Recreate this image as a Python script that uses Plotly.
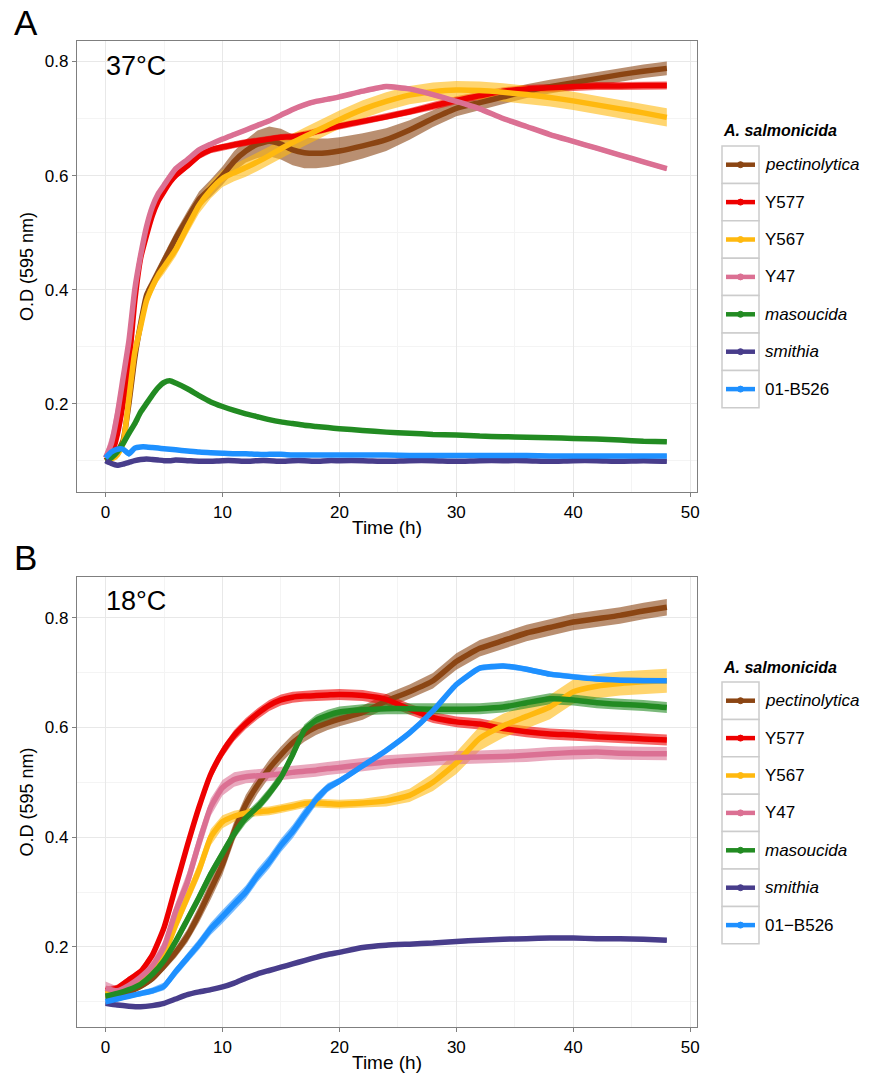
import plotly.graph_objects as go
import numpy as np

W, H = 874, 1076
FONT = "Liberation Sans, Arial, sans-serif"

series_names_A = ["pectinolytica", "Y577", "Y567", "Y47", "masoucida", "smithia", "01-B526"]
series_names_B = ["pectinolytica", "Y577", "Y567", "Y47", "masoucida", "smithia", "01\u2212B526"]
italic_names = ["pectinolytica", "masoucida", "smithia"]
colors = ["#8B4513", "#EE0000", "#FFB90F", "#DB7093", "#228B22", "#483D8B", "#1E90FF"]

# ---------------- Panel A : 37 C ----------------
tA = [0, 0.5, 1, 1.5, 2, 2.5, 3, 3.5, 4, 4.5, 5, 5.5, 6, 7, 8, 9, 10, 11, 12, 13, 14, 15, 16, 17, 18, 19, 20,
      22, 24, 26, 28, 30, 32, 34, 36, 38, 40, 42, 44, 46, 48]

pectA = [0.100, 0.105, 0.115, 0.135, 0.200, 0.280, 0.340, 0.390, 0.410, 0.430, 0.450, 0.470, 0.490,
         0.525, 0.558, 0.578, 0.600, 0.625, 0.643, 0.655, 0.660, 0.655, 0.645, 0.640, 0.639, 0.640, 0.643,
         0.652, 0.663, 0.680, 0.700, 0.718, 0.728, 0.738, 0.748, 0.756, 0.763, 0.770, 0.777, 0.783, 0.788]
y577A = [0.100, 0.110, 0.145, 0.200, 0.270, 0.380, 0.455, 0.495, 0.530, 0.555, 0.572, 0.588, 0.600,
         0.617, 0.635, 0.645, 0.650, 0.654, 0.658, 0.661, 0.664, 0.667, 0.668, 0.672, 0.677, 0.682, 0.687,
         0.695, 0.703, 0.712, 0.722, 0.732, 0.740, 0.748, 0.752, 0.754, 0.756, 0.757, 0.757, 0.758, 0.758]
y567A = [0.100, 0.103, 0.110, 0.130, 0.210, 0.290, 0.335, 0.380, 0.405, 0.425, 0.440, 0.455, 0.470,
         0.510, 0.548, 0.575, 0.595, 0.605, 0.614, 0.624, 0.635, 0.647, 0.658, 0.668, 0.678, 0.688, 0.698,
         0.716, 0.730, 0.741, 0.747, 0.750, 0.749, 0.746, 0.742, 0.737, 0.731, 0.724, 0.717, 0.710, 0.702]
y47A = [0.105, 0.130, 0.180, 0.245, 0.310, 0.400, 0.460, 0.510, 0.545, 0.568, 0.583, 0.598, 0.612,
        0.628, 0.645, 0.655, 0.664, 0.672, 0.680, 0.688, 0.696, 0.706, 0.716, 0.724, 0.730, 0.734, 0.738,
        0.748, 0.756, 0.752, 0.742, 0.730, 0.717, 0.700, 0.686, 0.672, 0.660, 0.648, 0.636, 0.624, 0.612]
masoA = [0.100, 0.105, 0.115, 0.130, 0.148, 0.165, 0.185, 0.200, 0.215, 0.228, 0.237, 0.240, 0.236,
         0.226, 0.214, 0.203, 0.195, 0.188, 0.182, 0.177, 0.172, 0.168, 0.165, 0.162, 0.160, 0.158, 0.156,
         0.153, 0.150, 0.148, 0.146, 0.145, 0.143, 0.142, 0.141, 0.140, 0.139, 0.138, 0.136, 0.134, 0.133]
smitA = [0.100, 0.095, 0.092, 0.094, 0.097, 0.100, 0.102, 0.103, 0.102, 0.101, 0.100, 0.100, 0.101,
         0.100, 0.099, 0.099, 0.100, 0.100, 0.099, 0.100, 0.100, 0.099, 0.100, 0.100, 0.099, 0.100, 0.100,
         0.100, 0.099, 0.100, 0.100, 0.099, 0.100, 0.100, 0.100, 0.099, 0.100, 0.100, 0.099, 0.100, 0.099]
b526A = [0.105, 0.115, 0.120, 0.120, 0.112, 0.122, 0.124, 0.124, 0.123, 0.122, 0.121, 0.120, 0.119,
         0.117, 0.115, 0.114, 0.113, 0.112, 0.112, 0.111, 0.111, 0.111, 0.110, 0.110, 0.110, 0.110, 0.110,
         0.110, 0.110, 0.109, 0.109, 0.109, 0.109, 0.109, 0.109, 0.108, 0.108, 0.108, 0.108, 0.108, 0.108]

errPectA = [0.004, 0.004, 0.005, 0.008, 0.012, 0.012, 0.012, 0.012, 0.012, 0.012, 0.012, 0.012, 0.012,
            0.013, 0.014, 0.015, 0.016, 0.018, 0.020, 0.024, 0.026, 0.027, 0.027, 0.027, 0.026, 0.025, 0.024,
            0.022, 0.020, 0.017, 0.015, 0.014, 0.013, 0.013, 0.012, 0.012, 0.012, 0.012, 0.012, 0.012, 0.012]
errY577A = [0.004, 0.006, 0.010, 0.012, 0.012, 0.010, 0.008, 0.007, 0.006, 0.006, 0.006, 0.006, 0.006,
            0.006, 0.006, 0.006, 0.006, 0.006, 0.006, 0.006, 0.006, 0.006, 0.006, 0.006, 0.006, 0.006, 0.006,
            0.006, 0.006, 0.006, 0.007, 0.007, 0.007, 0.007, 0.007, 0.007, 0.007, 0.007, 0.007, 0.007, 0.007]
errY567A = [0.004, 0.005, 0.008, 0.012, 0.015, 0.012, 0.010, 0.010, 0.010, 0.011, 0.012, 0.012, 0.012,
            0.013, 0.014, 0.015, 0.015, 0.015, 0.016, 0.016, 0.016, 0.016, 0.016, 0.016, 0.016, 0.016, 0.016,
            0.016, 0.016, 0.016, 0.016, 0.016, 0.016, 0.016, 0.016, 0.016, 0.016, 0.016, 0.016, 0.016, 0.016]
errY47A = [0.010, 0.020, 0.025, 0.020, 0.012, 0.008, 0.006, 0.005, 0.005, 0.005, 0.004, 0.004, 0.004,
           0.004, 0.004, 0.004, 0.004, 0.004, 0.004, 0.004, 0.004, 0.004, 0.004, 0.004, 0.004, 0.004, 0.004,
           0.004, 0.004, 0.004, 0.004, 0.004, 0.004, 0.004, 0.004, 0.004, 0.004, 0.004, 0.004, 0.004, 0.004]
errMasoA = [0.004, 0.004, 0.004, 0.004, 0.003, 0.003, 0.003, 0.003, 0.003, 0.003, 0.003, 0.003, 0.003,
            0.003, 0.003, 0.003, 0.003, 0.003, 0.003, 0.003, 0.003, 0.003, 0.003, 0.003, 0.003, 0.003, 0.003,
            0.003, 0.003, 0.003, 0.003, 0.003, 0.003, 0.003, 0.003, 0.003, 0.003, 0.003, 0.003, 0.003, 0.003]
errSmitA = [0.006, 0.004, 0.003, 0.003, 0.003, 0.003, 0.003, 0.003, 0.003, 0.003, 0.003, 0.003, 0.003,
            0.003, 0.003, 0.003, 0.003, 0.003, 0.004, 0.004, 0.003, 0.003, 0.003, 0.003, 0.003, 0.003, 0.004,
            0.003, 0.003, 0.004, 0.003, 0.004, 0.003, 0.003, 0.003, 0.003, 0.003, 0.004, 0.003, 0.004, 0.003]
errB526A = [0.004, 0.004, 0.004, 0.004, 0.006, 0.004, 0.003, 0.003, 0.003, 0.003, 0.003, 0.003, 0.003,
            0.003, 0.003, 0.003, 0.003, 0.003, 0.003, 0.003, 0.003, 0.003, 0.003, 0.003, 0.003, 0.003, 0.003,
            0.003, 0.003, 0.003, 0.003, 0.003, 0.003, 0.003, 0.003, 0.003, 0.003, 0.003, 0.003, 0.003, 0.003]

# ---------------- Panel B : 18 C ----------------
tB = [0, 1, 2, 3, 4, 5, 6, 7, 8, 9, 10, 11, 12, 13, 14, 15, 16, 17, 18, 19, 20,
      22, 24, 26, 28, 30, 32, 34, 36, 38, 40, 42, 44, 46, 48]

pectB = [0.110, 0.112, 0.118, 0.128, 0.142, 0.165, 0.190, 0.220, 0.260, 0.305, 0.350, 0.410, 0.460, 0.495,
         0.525, 0.550, 0.572, 0.588, 0.600, 0.608, 0.615,
         0.627, 0.648, 0.665, 0.685, 0.720, 0.744, 0.758, 0.772, 0.782, 0.792, 0.798, 0.804, 0.812, 0.819]
y577B = [0.120, 0.125, 0.140, 0.155, 0.185, 0.235, 0.310, 0.385, 0.455, 0.515, 0.555, 0.585, 0.607, 0.625,
         0.640, 0.650, 0.655, 0.657, 0.658, 0.659, 0.660,
         0.658, 0.651, 0.633, 0.618, 0.610, 0.606, 0.598, 0.592, 0.588, 0.586, 0.583, 0.581, 0.579, 0.577]
y567B = [0.115, 0.118, 0.125, 0.137, 0.155, 0.185, 0.240, 0.290, 0.340, 0.400, 0.428, 0.438, 0.444, 0.446,
         0.448, 0.452, 0.456, 0.461, 0.462, 0.461, 0.460,
         0.462, 0.466, 0.476, 0.500, 0.535, 0.580, 0.603, 0.620, 0.637, 0.665, 0.675, 0.680, 0.683, 0.685]
y47B = [0.125, 0.120, 0.130, 0.145, 0.165, 0.200, 0.265, 0.318, 0.390, 0.455, 0.490, 0.505, 0.510, 0.512,
        0.513, 0.515, 0.518, 0.520, 0.522, 0.525, 0.527,
        0.532, 0.537, 0.540, 0.543, 0.545, 0.546, 0.547, 0.549, 0.552, 0.554, 0.555, 0.553, 0.552, 0.552]
masoB = [0.110, 0.115, 0.122, 0.132, 0.150, 0.175, 0.210, 0.250, 0.290, 0.333, 0.370, 0.406, 0.435, 0.455,
         0.480, 0.509, 0.550, 0.595, 0.613, 0.622, 0.628,
         0.632, 0.634, 0.634, 0.633, 0.633, 0.634, 0.637, 0.645, 0.652, 0.650, 0.645, 0.642, 0.640, 0.636]
smitB = [0.097, 0.094, 0.092, 0.091, 0.093, 0.097, 0.105, 0.113, 0.118, 0.122, 0.127, 0.134, 0.143, 0.151,
         0.157, 0.163, 0.169, 0.175, 0.181, 0.186, 0.190,
         0.199, 0.203, 0.205, 0.207, 0.210, 0.212, 0.214, 0.215, 0.216, 0.216, 0.215, 0.215, 0.214, 0.212]
b526B = [0.100, 0.105, 0.110, 0.115, 0.120, 0.128, 0.155, 0.180, 0.205, 0.233, 0.255, 0.278, 0.300, 0.330,
         0.355, 0.385, 0.410, 0.440, 0.468, 0.490, 0.502,
         0.530, 0.558, 0.590, 0.630, 0.678, 0.708, 0.712, 0.706, 0.697, 0.692, 0.688, 0.686, 0.685, 0.685]

errPectB = [0.004, 0.004, 0.004, 0.005, 0.006, 0.008, 0.010, 0.012, 0.015, 0.018, 0.018, 0.018, 0.017, 0.016,
            0.016, 0.015, 0.015, 0.014, 0.014, 0.013, 0.013,
            0.013, 0.013, 0.013, 0.014, 0.015, 0.015, 0.015, 0.015, 0.015, 0.015, 0.015, 0.015, 0.015, 0.015]
errY577B = [0.008, 0.006, 0.006, 0.006, 0.007, 0.008, 0.009, 0.010, 0.010, 0.010, 0.010, 0.010, 0.010, 0.010,
            0.010, 0.010, 0.010, 0.010, 0.010, 0.010, 0.010,
            0.010, 0.010, 0.010, 0.010, 0.010, 0.010, 0.010, 0.010, 0.010, 0.010, 0.010, 0.010, 0.010, 0.010]
errY567B = [0.006, 0.006, 0.006, 0.007, 0.008, 0.010, 0.012, 0.015, 0.015, 0.015, 0.012, 0.010, 0.008, 0.008,
            0.008, 0.008, 0.008, 0.008, 0.008, 0.008, 0.008,
            0.008, 0.010, 0.012, 0.016, 0.020, 0.022, 0.022, 0.022, 0.022, 0.022, 0.022, 0.022, 0.022, 0.022]
errY47B = [0.012, 0.008, 0.008, 0.008, 0.010, 0.012, 0.015, 0.018, 0.018, 0.016, 0.014, 0.013, 0.012, 0.012,
           0.012, 0.012, 0.012, 0.012, 0.012, 0.012, 0.012,
           0.012, 0.012, 0.012, 0.012, 0.012, 0.012, 0.012, 0.012, 0.012, 0.012, 0.012, 0.012, 0.012, 0.012]
errMasoB = [0.006, 0.005, 0.005, 0.006, 0.007, 0.008, 0.009, 0.010, 0.010, 0.010, 0.010, 0.010, 0.010, 0.010,
            0.010, 0.010, 0.010, 0.010, 0.010, 0.010, 0.010,
            0.010, 0.010, 0.010, 0.010, 0.010, 0.010, 0.010, 0.010, 0.010, 0.010, 0.010, 0.010, 0.010, 0.010]
errSmitB = [0.003, 0.003, 0.003, 0.003, 0.003, 0.003, 0.003, 0.003, 0.003, 0.003, 0.003, 0.003, 0.003, 0.003,
            0.003, 0.003, 0.003, 0.003, 0.003, 0.003, 0.003,
            0.003, 0.003, 0.003, 0.003, 0.003, 0.003, 0.003, 0.003, 0.003, 0.003, 0.003, 0.003, 0.003, 0.003]
errB526B = [0.005, 0.004, 0.004, 0.005, 0.006, 0.007, 0.008, 0.009, 0.010, 0.011, 0.012, 0.012, 0.012, 0.012,
            0.012, 0.012, 0.012, 0.012, 0.010, 0.008, 0.006,
            0.005, 0.005, 0.005, 0.005, 0.005, 0.005, 0.005, 0.005, 0.005, 0.005, 0.005, 0.005, 0.005, 0.005]

x_ticks = [0, 10, 20, 30, 40, 50]
y_ticks = [0.2, 0.4, 0.6, 0.8]
y_ticktext = ["0.2", "0.4", "0.6", "0.8"]

panels = [
    dict(t=tA, vals=[pectA, y577A, y567A, y47A, masoA, smitA, b526A],
         errs=[errPectA, errY577A, errY567A, errY47A, errMasoA, errSmitA, errB526A],
         xa="x", ya="y", names=series_names_A),
    dict(t=tB, vals=[pectB, y577B, y567B, y47B, masoB, smitB, b526B],
         errs=[errPectB, errY577B, errY567B, errY47B, errMasoB, errSmitB, errB526B],
         xa="x2", ya="y2", names=series_names_B),
]


def rgba(hexc, a):
    h = hexc.lstrip("#")
    return "rgba(%d,%d,%d,%.2f)" % (int(h[0:2], 16), int(h[2:4], 16), int(h[4:6], 16), a)


fig = go.Figure()
for p in panels:
    t = np.array(p["t"], dtype=float)
    # error bands first
    for v, e, c in zip(p["vals"], p["errs"], colors):
        v = np.array(v); e = np.array(e)
        fig.add_trace(go.Scatter(x=t, y=v + e, mode="lines", line=dict(width=0, color=c),
                                 xaxis=p["xa"], yaxis=p["ya"], showlegend=False, hoverinfo="skip"))
        fig.add_trace(go.Scatter(x=t, y=v - e, mode="lines", line=dict(width=0, color=c),
                                 fill="tonexty", fillcolor=rgba(c, 0.6),
                                 xaxis=p["xa"], yaxis=p["ya"], showlegend=False, hoverinfo="skip"))
    # mean curves
    for v, c, n in zip(p["vals"], colors, p["names"]):
        sizes = [0] * (len(v) - 1) + [8]
        fig.add_trace(go.Scatter(x=t, y=v, mode="lines+markers", name=n,
                                 line=dict(width=5.5, color=c, shape="spline", smoothing=0.5),
                                 marker=dict(size=sizes, color="rgba(0,0,0,0)", symbol="circle-open",
                                             line=dict(color=c, width=1.5)),
                                 xaxis=p["xa"], yaxis=p["ya"], showlegend=False))

# axes geometry (pixels, reference coordinates)
xl, xr = 77, 697
A_top, A_bot = 41, 492
B_top, B_bot = 577, 1027


def P(x, y):
    return x / W, 1 - y / H


def pdom(top, bot):
    return [P(0, bot)[1], P(0, top)[1]]


xdom = [P(xl, 0)[0], P(xr, 0)[0]]

axis_common = dict(showline=True, mirror=True, linecolor="#7F7F7F", linewidth=1.3,
                   ticks="outside", ticklen=4, tickcolor="#7F7F7F", tickwidth=1.2,
                   showgrid=True, gridcolor="#E8E8E8", gridwidth=1.2, zeroline=False,
                   automargin=False,
                   tickfont=dict(family=FONT, size=17, color="#000000"))

xcommon = dict(axis_common, range=[-2.44, 50.58], tickvals=x_ticks,
               minor=dict(tickvals=[5, 15, 25, 35, 45], showgrid=True, gridcolor="#F4F4F4", gridwidth=1, ticks=""),
               title=dict(text="Time (h)", font=dict(family=FONT, size=19, color="#000"), standoff=0))
ycommon = dict(axis_common, tickvals=y_ticks, ticktext=y_ticktext,
               minor=dict(tickvals=[0.1, 0.3, 0.5, 0.7], showgrid=True, gridcolor="#F4F4F4", gridwidth=1, ticks=""),
               title=dict(text="O.D (595 nm)", font=dict(family=FONT, size=18, color="#000"), standoff=6))

fig.update_layout(
    width=W, height=H, autosize=False,
    margin=dict(l=0, r=0, t=0, b=0),
    paper_bgcolor="white", plot_bgcolor="white",
    showlegend=False,
    xaxis=dict(xcommon, domain=xdom, anchor="y"),
    yaxis=dict(ycommon, domain=pdom(A_top, A_bot), range=[0.045, 0.836], anchor="x"),
    xaxis2=dict(xcommon, domain=xdom, anchor="y2"),
    yaxis2=dict(ycommon, domain=pdom(B_top, B_bot), range=[0.054, 0.874], anchor="x2"),
)

shapes = []
annotations = []

# panel letters and temperatures
for letter, ly, temp, ty in [("A", 23, "37°C", 66), ("B", 557, "18°C", 601)]:
    x, y = P(12, ly)
    annotations.append(dict(x=x, y=y, xref="paper", yref="paper", text=letter, showarrow=False,
                            xanchor="left", yanchor="middle", font=dict(family=FONT, size=35, color="#000")))
    x, y = P(104, ty)
    annotations.append(dict(x=x, y=y, xref="paper", yref="paper", text=temp, showarrow=False,
                            xanchor="left", yanchor="middle", font=dict(family=FONT, size=27, color="#000")))

# manual legends (ggplot style keys with boxes)
for names, off in [(series_names_A, 0), (series_names_B, 536)]:
    tx, ty = P(721, 131 + off)
    annotations.append(dict(x=tx, y=ty, xref="paper", yref="paper", text="<b><i>A. salmonicida</i></b>",
                            showarrow=False, xanchor="left", yanchor="middle",
                            font=dict(family=FONT, size=16, color="#000")))
    for i, (n, c) in enumerate(zip(names, colors)):
        top = 146 + 37.4 * i + off
        bot = top + 37.4
        cy = (top + bot) / 2
        x0, y0 = P(722, top)
        x1, y1 = P(759, bot)
        shapes.append(dict(type="rect", xref="paper", yref="paper", x0=x0, x1=x1, y0=y1, y1=y0,
                           line=dict(color="#CCCCCC", width=1.5), fillcolor="white", layer="above"))
        lx0, ly0 = P(726, cy)
        lx1, _ = P(755, cy)
        shapes.append(dict(type="line", xref="paper", yref="paper", x0=lx0, x1=lx1, y0=ly0, y1=ly0,
                           line=dict(color=c, width=4.5), layer="above"))
        cx0, cy0 = P(737.5, cy - 3)
        cx1, cy1 = P(743.5, cy + 3)
        shapes.append(dict(type="circle", xref="paper", yref="paper", x0=cx0, x1=cx1, y0=cy1, y1=cy0,
                           line=dict(color=c, width=1), fillcolor=c, layer="above"))
        label = "<i>%s</i>" % n if n in italic_names else n
        ax, ay = P(763, cy)
        annotations.append(dict(x=ax, y=ay, xref="paper", yref="paper", text=label, showarrow=False,
                                xanchor="left", yanchor="middle", font=dict(family=FONT, size=17, color="#000")))

fig.update_layout(shapes=shapes, annotations=annotations)
# remove the default page margin so the 874x1076 figure fills the window exactly; hide the modebar
fig.write_html("out.html", config={"displayModeBar": False},
               post_script="document.body.style.margin='0px';")
